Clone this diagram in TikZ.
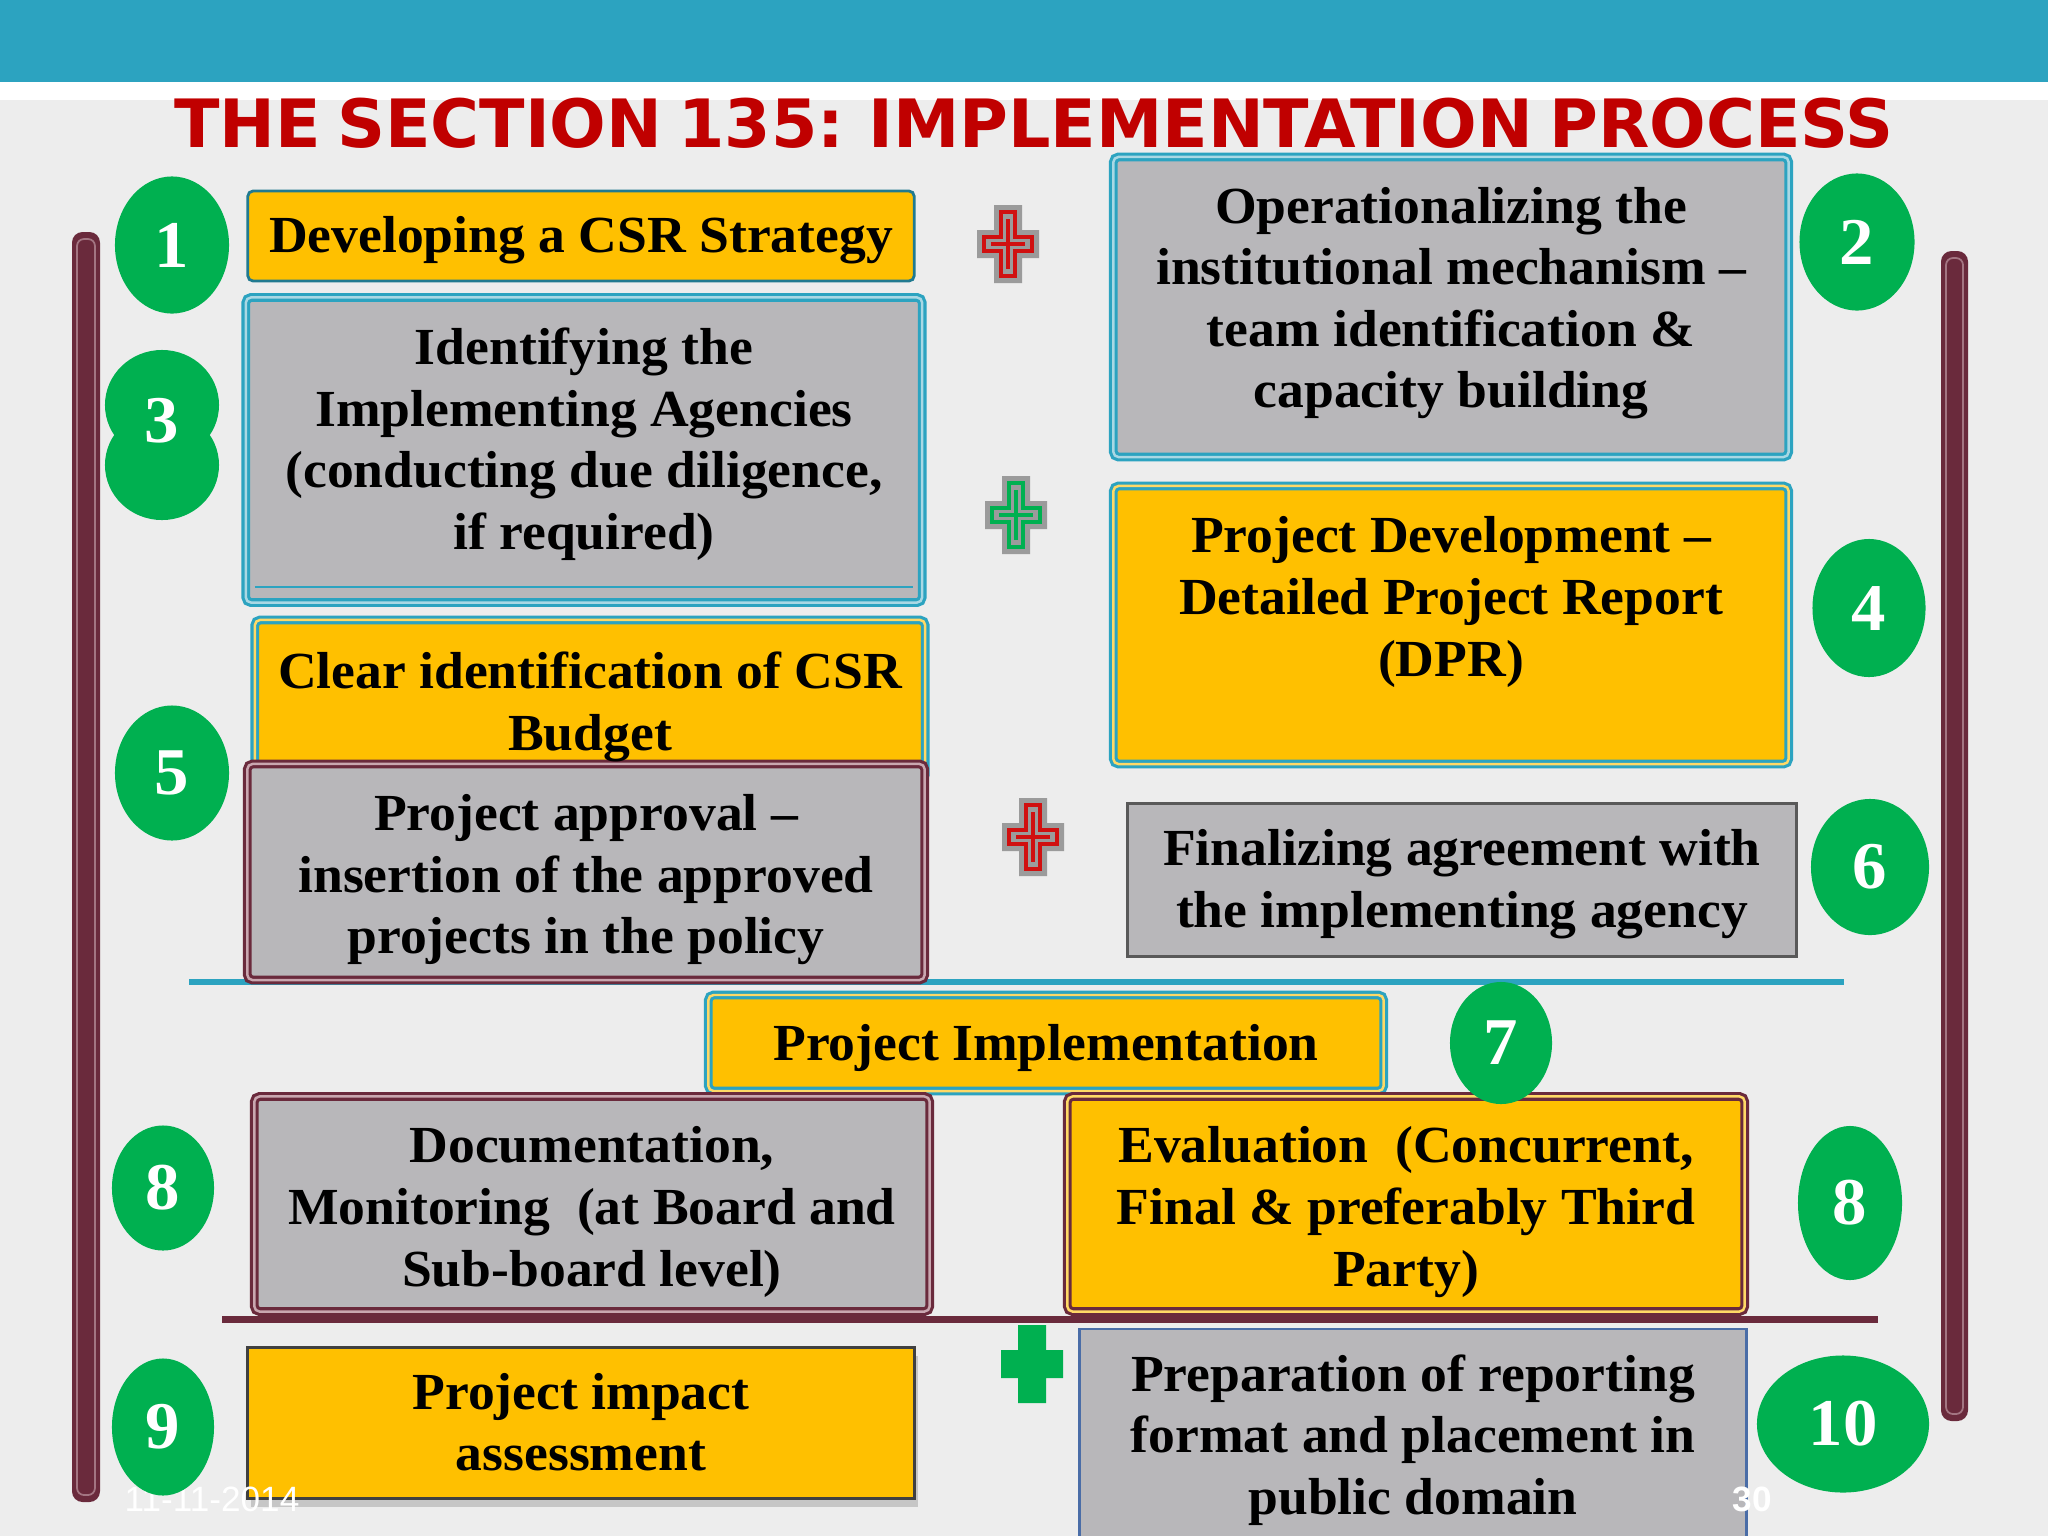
\documentclass[tikz,border=0pt]{standalone}
\usepackage{fontspec}
\setmainfont{Liberation Serif}[FakeStretch=1.03]
\newfontfamily\titlefont{DejaVu Sans}[WordSpace=0.7]
\newfontfamily\footfont{Liberation Sans}
\usetikzlibrary{shapes.geometric,shadows}
\definecolor{teal1}{HTML}{2CA3C0}
\definecolor{tealpale}{HTML}{A9D8E4}
\definecolor{gold}{HTML}{FFC000}
\definecolor{boxgray}{HTML}{B8B7BA}
\definecolor{maroon1}{HTML}{6A2A3C}
\definecolor{maroonpale}{HTML}{C9A7B0}
\definecolor{green1}{HTML}{00B050}
\definecolor{titlered}{HTML}{C00000}
\definecolor{bg}{HTML}{EDEDED}
\definecolor{plusgray}{HTML}{9B9B9B}
\definecolor{plusred}{HTML}{D01010}
\definecolor{blueedge}{HTML}{4A6DA7}
\tikzset{
  txt/.style={font=\bfseries\fontsize{14.8}{17.5}\selectfont, align=center, text=black, inner sep=0pt},
  box/.style={rectangle, inner sep=0pt, rounded corners=1.5pt},
  tealbox/.style={box, draw=teal1, double=tealpale, line width=0.9pt, double distance=0.7pt},
  maroonbox/.style={box, draw=maroon1, double=maroonpale, line width=0.9pt, double distance=0.7pt},
  numc/.style={ellipse, fill=green1, text=white, inner sep=0pt, font=\bfseries\fontsize{19}{20}\selectfont},
  numt/.style={text=white, inner sep=0pt, font=\bfseries\fontsize{19}{20}\selectfont},
  pics/plusmark/.style={code={
    \fill[plusgray] (-31,-14)--(-14,-14)--(-14,-39)--(14,-39)--(14,-14)--(31,-14)--(31,14)--(14,14)--(14,39)--(-14,39)--(-14,14)--(-31,14)--cycle;
    \draw[#1,line width=0.9pt] (-24,-7)--(-7,-7)--(-7,-32)--(7,-32)--(7,-7)--(24,-7)--(24,7)--(7,7)--(7,32)--(-7,32)--(-7,7)--(-24,7)--cycle;
    \draw[#1,line width=0.9pt] (0,-25)--(0,25) (-17,0)--(17,0);
  }}
}
\begin{document}
\begin{tikzpicture}[x=0.01cm,y=-0.01cm]
\useasboundingbox (0,0) rectangle (2048,1536);
% background
\fill[bg] (0,0) rectangle (2048,1536);
\fill[white] (0,80) rectangle (2048,100);
\fill[teal1] (0,0) rectangle (2048,82);
% title
\node[font=\titlefont\bfseries\fontsize{18.95}{20}\selectfont, text=titlered, anchor=base, inner sep=0pt] (title) at (1034,147) {THE SECTION 135: IMPLEMENTATION PROCESS};
% side bars
\fill[maroon1, rounded corners=3pt] (72,232) rectangle (100,1502);
\draw[maroonpale!60!maroon1, line width=0.5pt, rounded corners=2pt] (77,239) rectangle (95,1495);
\fill[maroon1, rounded corners=3pt] (1941,251) rectangle (1968,1421);
\draw[maroonpale!60!maroon1, line width=0.5pt, rounded corners=2pt] (1946,258) rectangle (1963,1414);
% separators
\coordinate (s1a) at (189,982); \coordinate (s1b) at (1844,982);
\draw[teal1, line width=1.5pt] (s1a) -- (s1b);
\coordinate (s2a) at (222,1319); \coordinate (s2b) at (1878,1319);
\draw[maroon1, line width=2pt] (s2a) -- (s2b);
% boxes
\node[box, fill=gold, draw=teal1!75!black, line width=0.8pt, minimum width=6.66cm, minimum height=0.90cm] (b1) at (581,236) {};
\node[tealbox, fill=boxgray, minimum width=6.75cm, minimum height=3.0cm] (b2) at (1451,307) {};
\node[tealbox, fill=boxgray, minimum width=6.76cm, minimum height=3.05cm] (b3) at (584,450) {};
\draw[teal1, line width=0.6pt] ([xshift=3pt,yshift=5pt]b3.south west) -- ([xshift=-3pt,yshift=5pt]b3.south east);
\node[tealbox, fill=gold, double=gold!60!white, minimum width=6.75cm, minimum height=2.78cm] (b4) at (1451,625) {};
\node[tealbox, fill=gold, double=gold!60!white, minimum width=6.70cm, minimum height=1.60cm] (b5) at (590,700) {};
\node[maroonbox, fill=boxgray, minimum width=6.77cm, minimum height=2.16cm] (b5b) at (586,872) {};
\node[box, fill=boxgray, draw=black!65, line width=0.9pt, rounded corners=0pt, minimum width=6.68cm, minimum height=1.53cm] (b6) at (1462,880) {};
\node[tealbox, fill=gold, double=gold!60!white, minimum width=6.75cm, minimum height=0.96cm] (b7) at (1046,1043) {};
\node[maroonbox, fill=boxgray, minimum width=6.75cm, minimum height=2.15cm] (b8l) at (592,1204) {};
\node[maroonbox, fill=gold, double=gold!60!white, minimum width=6.77cm, minimum height=2.15cm] (b8r) at (1406,1204) {};
\node[box, fill=gold, draw=black!75, line width=0.8pt, rounded corners=0pt, minimum width=6.66cm, minimum height=1.51cm, drop shadow={opacity=0.35, shadow xshift=1pt, shadow yshift=-2.5pt}] (b9) at (581,1423) {};
\node[box, fill=boxgray, draw=blueedge, line width=0.8pt, rounded corners=0pt, minimum width=6.66cm, minimum height=2.16cm] (b10) at (1413,1437) {};
% texts
\node[txt] (t1) at (581,240) {Developing a CSR Strategy};
\node[txt] (t2) at (1451,303) {Operationalizing the\\institutional mechanism –\\team identification \&\\capacity building};
\node[txt] (t3) at (584,444) {Identifying the\\Implementing Agencies\\(conducting due diligence,\\if required)};
\node[txt] (t4) at (1451,602) {Project Development –\\Detailed Project Report\\(DPR)};
\node[txt] (t5) at (590,707) {Clear identification of CSR\\Budget};
\node[txt] (t5b) at (586,880) {Project approval –\\insertion of the approved\\projects in the policy};
\node[txt] (t6) at (1462,884) {Finalizing agreement with\\the implementing agency};
\node[txt] (t7) at (1046,1048) {Project Implementation};
\node[txt] (t8l) at (592,1212) {Documentation,\\Monitoring\ \ (at Board and\\Sub-board level)};
\node[txt] (t8r) at (1406,1212) {Evaluation\ \ (Concurrent,\\Final \& preferably Third\\Party)};
\node[txt] (t9) at (581,1422) {Project impact\\assessment};
\node[txt] (t10) at (1413,1440) {Preparation of reporting\\format and placement in\\public domain};
% footer (partly behind circles)
\node[font=\footfont\fontsize{10}{12}\selectfont, text=white, inner sep=0pt] (date) at (212,1499) {11-11-2014};
\node[font=\footfont\bfseries\fontsize{10}{12}\selectfont, text=white, inner sep=0pt] (page) at (1752,1499) {30};
% number circles
\node[numc, minimum width=1.14cm, minimum height=1.37cm] (c1) at (172,245) {1};
\node[numc, minimum width=1.15cm, minimum height=1.37cm] (c2) at (1857,242) {2};
\fill[green1] (162,405) ellipse [x radius=0.57cm, y radius=0.55cm];
\fill[green1] (162,465) ellipse [x radius=0.57cm, y radius=0.55cm];
\node[numt] (c3) at (162,421) {3};
\node[numc, minimum width=1.13cm, minimum height=1.38cm] (c4) at (1869,608) {4};
\node[numc, minimum width=1.14cm, minimum height=1.35cm] (c5) at (172,773) {5};
\node[numc, minimum width=1.18cm, minimum height=1.36cm] (c6) at (1870,867) {6};
\node[numc, minimum width=1.02cm, minimum height=1.22cm] (c7) at (1501,1043) {7};
\node[numc, minimum width=1.02cm, minimum height=1.25cm] (c8l) at (163,1188) {8};
\node[numc, minimum width=1.04cm, minimum height=1.54cm] (c8r) at (1850,1203) {8};
\node[numc, minimum width=1.02cm, minimum height=1.37cm] (c9) at (163,1427) {9};
\node[numc, minimum width=1.72cm, minimum height=1.37cm] (c10) at (1843,1424) {10};
% plus marks
\pic at (1008,244) {plusmark=plusred};
\pic at (1016,515) {plusmark=green1};
\pic at (1033,837) {plusmark=plusred};
\fill[green1] (1018,1325) -- (1046,1325) -- (1046,1350) -- (1063,1350) -- (1063,1378) -- (1046,1378) -- (1046,1403) -- (1018,1403) -- (1018,1378) -- (1001,1378) -- (1001,1350) -- (1018,1350) -- cycle;
\end{tikzpicture}
\end{document}
